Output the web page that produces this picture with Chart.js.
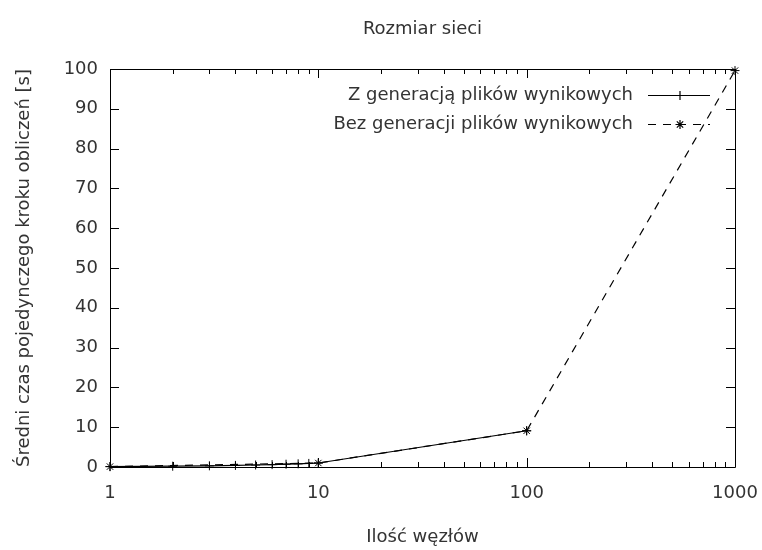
<!DOCTYPE html>
<html>
<head>
<meta charset="utf-8">
<script src="https://cdn.jsdelivr.net/npm/chart.js@4/dist/chart.umd.min.js"></script>
<style>
  html, body { margin: 0; padding: 0; background: #fff; }
</style>
</head>
<body>
<canvas id="canvas" width="762" height="550"></canvas>
<script>
// values
var chartTitle = 'Rozmiar sieci';
var xTitle = 'Ilość węzłów';
var yTitle = 'Średni czas pojedynczego kroku obliczeń [s]';

var withOutputLabel = 'Z generacją plików wynikowych';
var withOutputNodes = [1, 2, 3, 4, 5, 6, 7, 8, 9, 10, 100];
var withOutputTimes = [0.1, 0.2, 0.3, 0.4, 0.5, 0.6, 0.7, 0.8, 0.9, 1.0, 9.1];

var noOutputLabel = 'Bez generacji plików wynikowych';
var noOutputNodes = [1, 10, 100, 1000];
var noOutputTimes = [0.1, 1.0, 9.1, 99.6];

var xMajorTicks = [1, 10, 100, 1000];
var xMinorTicks = [2, 3, 4, 5, 6, 7, 8, 9, 20, 30, 40, 50, 60, 70, 80, 90, 200, 300, 400, 500, 600, 700, 800, 900];
var yTicks = [0, 10, 20, 30, 40, 50, 60, 70, 80, 90, 100];

var FONT = '"DejaVu Sans", sans-serif';
var TEXT = '#333';

function toPoints(xs, ys) {
  return xs.map(function (x, i) { return { x: x, y: ys[i] }; });
}

// gnuplot-like frame: box, inward ticks on all sides, title, legend
var gnuplotFrame = {
  id: 'gnuplotFrame',
  afterDraw: function (chart) {
    var ctx = chart.ctx;
    var a = chart.chartArea;
    var xs = chart.scales.x, ys = chart.scales.y;
    ctx.save();
    ctx.strokeStyle = '#000';
    ctx.lineWidth = 1;
    ctx.beginPath();
    ctx.rect(Math.round(a.left) + 0.5, Math.round(a.top) + 0.5,
             Math.round(a.right - a.left), Math.round(a.bottom - a.top));
    ctx.stroke();

    ctx.beginPath();
    function xTick(v, len) {
      var px = Math.round(xs.getPixelForValue(v)) + 0.5;
      ctx.moveTo(px, a.bottom); ctx.lineTo(px, a.bottom - len);
      ctx.moveTo(px, a.top); ctx.lineTo(px, a.top + len);
    }
    xMajorTicks.forEach(function (v) { xTick(v, 9); });
    xMinorTicks.forEach(function (v) { xTick(v, 5); });
    yTicks.forEach(function (v) {
      var py = Math.round(ys.getPixelForValue(v)) + 0.5;
      ctx.moveTo(a.left, py); ctx.lineTo(a.left + 9, py);
      ctx.moveTo(a.right, py); ctx.lineTo(a.right - 9, py);
    });
    ctx.stroke();

    // title
    ctx.fillStyle = TEXT;
    ctx.font = '18px ' + FONT;
    ctx.textAlign = 'center';
    ctx.textBaseline = 'middle';
    ctx.fillText(chartTitle, (a.left + a.right) / 2, 29);

    // legend
    ctx.textAlign = 'right';
    var rows = [95, 124];
    chart.data.datasets.forEach(function (ds, i) {
      var y = rows[i];
      ctx.fillStyle = TEXT;
      ctx.fillText(ds.label, 633, y);
      ctx.strokeStyle = '#000';
      ctx.lineWidth = ds.borderWidth;
      ctx.setLineDash(ds.borderDash || []);
      ctx.beginPath();
      ctx.moveTo(648, y + 0.5); ctx.lineTo(710, y + 0.5);
      ctx.stroke();
      ctx.setLineDash([]);
      Chart.helpers.drawPoint(ctx, {
        pointStyle: ds.pointStyle, radius: ds.pointRadius, rotation: 0, borderWidth: 1
      }, 680, y + 0.5);
    });
    ctx.restore();
  }
};

var ctx = document.getElementById('canvas').getContext('2d');
var chart = new Chart(ctx, {
  type: 'line',
  data: {
    datasets: [{
      label: withOutputLabel,
      data: toPoints(withOutputNodes, withOutputTimes),
      borderColor: '#000',
      backgroundColor: '#000',
      borderWidth: 1.2,
      pointStyle: 'cross',
      pointRadius: 4.5,
      pointBorderWidth: 1,
      pointBorderColor: '#000',
      clip: false,
      tension: 0
    }, {
      label: noOutputLabel,
      data: toPoints(noOutputNodes, noOutputTimes),
      borderColor: '#000',
      backgroundColor: '#000',
      borderWidth: 1.2,
      borderDash: [8, 7],
      pointStyle: 'star',
      pointRadius: 4.5,
      pointBorderWidth: 1,
      pointBorderColor: '#000',
      clip: false,
      tension: 0
    }]
  },
  options: {
    responsive: false,
    animation: false,
    layout: { padding: { left: 0, right: 27, top: 69, bottom: 0 } },
    plugins: {
      legend: { display: false },
      title: { display: false },
      tooltip: { enabled: false }
    },
    scales: {
      x: {
        type: 'logarithmic',
        min: 1,
        max: 1000,
        grid: { display: false, drawTicks: false },
        border: { display: false },
        afterBuildTicks: function (scale) {
          scale.ticks = xMajorTicks.map(function (v) { return { value: v }; });
        },
        afterFit: function (scale) {
          scale.height = 83;
          scale.paddingLeft = 0; scale.paddingRight = 0;
        },
        ticks: {
          padding: 16,
          maxRotation: 0,
          autoSkip: false,
          color: TEXT,
          font: { family: FONT, size: 18 },
          callback: function (v) { return String(v); }
        },
        title: {
          display: true,
          text: xTitle,
          color: TEXT,
          font: { family: FONT, size: 18 },
          padding: { top: 0, bottom: 2 }
        }
      },
      y: {
        min: 0,
        max: 100,
        grid: { display: false, drawTicks: false },
        border: { display: false },
        afterBuildTicks: function (scale) {
          scale.ticks = yTicks.map(function (v) { return { value: v }; });
        },
        afterFit: function (scale) {
          scale.width = 110;
          scale.paddingTop = 0; scale.paddingBottom = 0;
        },
        ticks: {
          padding: 12,
          color: TEXT,
          font: { family: FONT, size: 18 }
        },
        title: {
          display: true,
          text: yTitle,
          color: TEXT,
          font: { family: FONT, size: 18 },
          padding: { top: 14, bottom: 0 }
        }
      }
    }
  },
  plugins: [gnuplotFrame]
});
</script>
</body>
</html>
